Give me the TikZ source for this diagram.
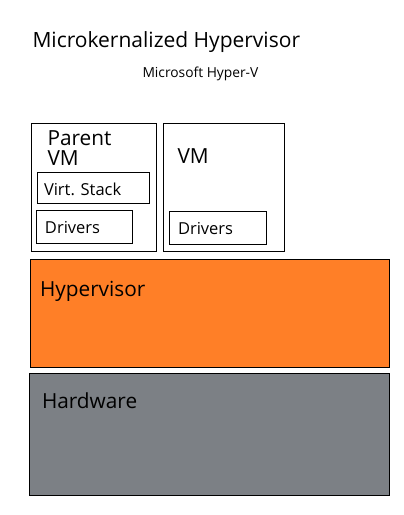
\documentclass[tikz,border=0pt]{standalone}
\usepackage{fontspec}
\setmainfont{Open Sans}
\usetikzlibrary{calc}
\definecolor{hvorange}{RGB}{255,127,39}
\definecolor{hwgray}{RGB}{124,128,133}

\begin{document}
\begin{tikzpicture}[x=1pt, y=-1pt, line width=1pt,
    box/.style={draw, rectangle, inner sep=0pt},
    lbl/.style={anchor=base west, inner sep=0pt},
    big/.style={lbl, font=\fontsize{20.8}{22}\selectfont},
    small/.style={lbl, font=\fontsize{16.5}{18}\selectfont}]
      \useasboundingbox (0,0) rectangle (404,515);

      \node at (32,47) [lbl, font=\fontsize{21}{24}\selectfont, name=title]
      {Microkernalized Hypervisor};
      \node at (142,77) [lbl, font=\fontsize{13.8}{16}\selectfont, name=subtitle]
      {Microsoft Hyper-V};

      % virtual machines
      \node at (93.5,187) [box, minimum width=125, minimum height=128, name=parent] {};
      \node at (47,145) [big, name=parentlbl] {Parent};
      \node at (47,165) [big, name=parentvm] {VM};

      \node at (93,187.5) [box, minimum width=112, minimum height=31, name=vstack] {};
      \node at ($(vstack.west)+(7,8)$) [small, name=vstacklbl] {Virt. Stack};

      \node at (84,226.5) [box, minimum width=96, minimum height=33, name=drvp] {};
      \node at ($(drvp.west)+(9,7)$) [small, name=drvplbl] {Drivers};

      \node at (223.5,187) [box, minimum width=121, minimum height=128, name=vm] {};
      \node at (177,163) [big, name=vmlbl] {VM};

      \node at (217.5,227.5) [box, minimum width=97, minimum height=33, name=drvv] {};
      \node at ($(drvv.west)+(9,7)$) [small, name=drvvlbl] {Drivers};

      % layers
      \node at (209.5,313) [box, fill=hvorange, minimum width=359, minimum height=108, name=hyp] {};
      \node at ($(hyp.north west)+(10,38)$) [big, name=hyplbl] {Hypervisor};

      \node at (209,434) [box, fill=hwgray, minimum width=360, minimum height=122, name=hw] {};
      \node at ($(hw.north west)+(13,36)$) [big, name=hwlbl] {Hardware};
\end{tikzpicture}
\end{document}
